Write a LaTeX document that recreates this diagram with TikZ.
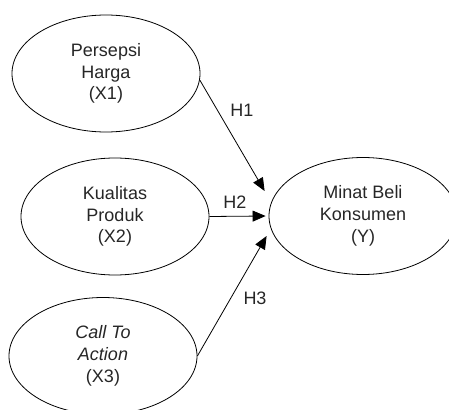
\documentclass[tikz,border=0pt]{standalone}
\usepackage{fontspec}
\setmainfont{Liberation Sans}
\usetikzlibrary{shapes.geometric,arrows.meta}

\begin{document}
\begin{tikzpicture}[x=1pt,y=-1pt,
        construct/.style={draw, ellipse, line width=0.8pt, minimum width=188pt, minimum height=117pt,
            align=center, font=\fontsize{18}{21.7}\selectfont, text=black!85},
        hyp/.style={line width=0.8pt, -{Triangle[length=13pt,width=11pt]}},
        hlabel/.style={font=\fontsize{18}{21.7}\selectfont, text=black!85}]
        \useasboundingbox (0,0) rectangle (449,409);
        \node[construct] (x1) at (106,73.5) {Persepsi\\Harga\\(X1)};
        \node[construct] (x2) at (115,216.5) {Kualitas\\Produk\\(X2)};
        \node[construct] (x3) at (103,356) {\itshape Call To\\\itshape Action\\(X3)};
        \node[construct] (y) at (363,216) {Minat Beli\\Konsumen\\(Y)};
        \draw[hyp] (x1.-4) -- ([shift={(-4,-25)}]y.west);
        \draw[hyp] (x2.east) -- ([shift={(-3,0)}]y.west);
        \draw[hyp] (x3.east) -- ([shift={(-2,20)}]y.west);
        \node[hlabel] (h1) at (242,110) {H1};
        \node[hlabel] (h2) at (235,202) {H2};
        \node[hlabel] (h3) at (255,298) {H3};
    \end{tikzpicture}
\end{document}
